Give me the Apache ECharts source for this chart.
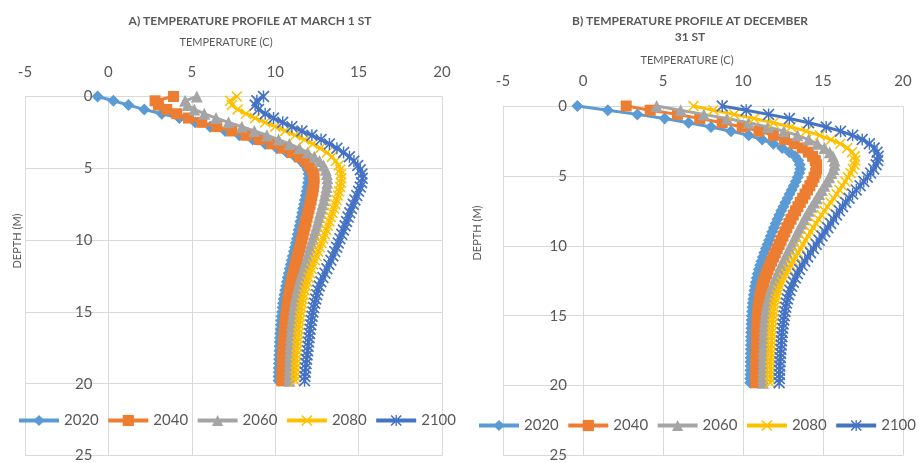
<!DOCTYPE html>
<html>
<head>
<meta charset="utf-8">
<script src="https://cdn.jsdelivr.net/npm/echarts@6/dist/echarts.min.js"></script>
<style>
  html, body { margin: 0; padding: 0; background: #ffffff; }
  #chart { width: 919px; height: 463px; }
</style>
</head>
<body>
<div id="chart"></div>
<script>
// Depth of each model node (m)
const depths = [
  0, 0.3, 0.6, 0.9, 1.2, 1.5, 1.8, 2.1, 2.4, 2.7, 3.0, 3.3, 3.6, 3.9, 4.2, 4.5, 4.8, 5.1, 5.4, 5.7, 6.0,
  6.3, 6.6, 6.9, 7.2, 7.5, 7.8, 8.1, 8.4, 8.7, 9.0, 9.3, 9.6, 9.9, 10.2, 10.5, 10.8, 11.1, 11.4, 11.7, 12.0,
  12.3, 12.6, 12.9, 13.2, 13.5, 13.8, 14.1, 14.4, 14.7, 15.0, 15.3, 15.6, 15.9, 16.2, 16.5, 16.8, 17.1, 17.4,
  17.7, 18.0, 18.3, 18.6, 18.9, 19.2, 19.5, 19.8
];

const years = ['2020', '2040', '2060', '2080', '2100'];

// Temperature (C) on March 1st
const march2020 = [
  -0.65, 0.3, 1.2, 2.15, 3.2, 4.25, 5.2, 6.1, 7.0, 7.85, 8.65, 9.4, 10.1, 10.7, 11.2, 11.55, 11.8, 11.95, 12.0, 12.0, 11.97,
  11.93, 11.88, 11.83, 11.78, 11.73, 11.67, 11.62, 11.57, 11.51, 11.46,
  11.4, 11.35, 11.3, 11.24, 11.18, 11.12, 11.05, 10.99, 10.93, 10.87,
  10.81, 10.75, 10.7, 10.65, 10.6, 10.55, 10.51, 10.47, 10.44, 10.41,
  10.38, 10.36, 10.34, 10.32, 10.3, 10.29, 10.27, 10.26, 10.25, 10.24,
  10.23, 10.22, 10.21, 10.21, 10.2, 10.2
];
const march2040 = [
  3.9, 2.8, 3.0, 3.5, 4.1, 4.8, 5.6, 6.5, 7.4, 8.25, 9.05, 9.8, 10.45, 11.0, 11.45, 11.8, 12.05, 12.2, 12.3, 12.33, 12.32,
  12.29, 12.25, 12.2, 12.15, 12.09, 12.03, 11.97, 11.91, 11.85, 11.79,
  11.73, 11.67, 11.61, 11.55, 11.49, 11.42, 11.35, 11.29, 11.22, 11.16,
  11.1, 11.04, 10.98, 10.93, 10.88, 10.83, 10.79, 10.75, 10.71, 10.68,
  10.65, 10.62, 10.59, 10.57, 10.55, 10.53, 10.51, 10.49, 10.48, 10.46,
  10.45, 10.44, 10.43, 10.42, 10.41, 10.4
];
const march2060 = [
  5.3, 4.6, 4.75, 5.15, 5.75, 6.45, 7.2, 8.0, 8.75, 9.5, 10.2, 10.85, 11.45, 11.95, 12.35, 12.66, 12.9, 13.03, 13.1, 13.13, 13.12,
  13.08, 13.03, 12.97, 12.91, 12.84, 12.77, 12.7, 12.63, 12.56, 12.49,
  12.41, 12.33, 12.25, 12.17, 12.09, 12.01, 11.93, 11.85, 11.77, 11.69,
  11.61, 11.53, 11.46, 11.39, 11.33, 11.27, 11.22, 11.17, 11.13, 11.09,
  11.06, 11.03, 11.0, 10.98, 10.96, 10.94, 10.93, 10.91, 10.9, 10.89,
  10.88, 10.87, 10.86, 10.86, 10.85, 10.85
];
const march2080 = [
  7.7, 7.3, 7.4, 7.75, 8.25, 8.8, 9.4, 10.0, 10.6, 11.2, 11.75, 12.25, 12.7, 13.1, 13.4, 13.63, 13.8, 13.9, 13.95, 13.96, 13.94,
  13.89, 13.83, 13.76, 13.68, 13.6, 13.52, 13.43, 13.34, 13.25, 13.16,
  13.07, 12.98, 12.88, 12.78, 12.68, 12.58, 12.48, 12.38, 12.28, 12.18,
  12.09, 12.0, 11.92, 11.85, 11.78, 11.72, 11.67, 11.62, 11.58, 11.54,
  11.5, 11.47, 11.44, 11.41, 11.39, 11.36, 11.34, 11.32, 11.3, 11.28,
  11.27, 11.25, 11.24, 11.23, 11.22, 11.21
];
const march2100 = [
  9.3, 8.9, 8.8, 9.0, 9.4, 9.9, 10.45, 11.0, 11.6, 12.2, 12.75, 13.25, 13.7, 14.1, 14.45, 14.72, 14.95, 15.1, 15.2, 15.22, 15.18,
  15.1, 15.0, 14.89, 14.78, 14.68, 14.57, 14.47, 14.37, 14.28, 14.19,
  14.09, 13.99, 13.88, 13.78, 13.68, 13.57, 13.46, 13.34, 13.22, 13.1,
  12.98, 12.86, 12.74, 12.64, 12.56, 12.49, 12.43, 12.37, 12.31, 12.26,
  12.21, 12.17, 12.13, 12.09, 12.06, 12.03, 12.0, 11.97, 11.94, 11.91,
  11.88, 11.85, 11.82, 11.8, 11.78, 11.76
];

// Temperature (C) on December 31st
const dec2020 = [
  -0.35, 1.55, 3.4, 5.1, 6.6, 8.0, 9.25, 10.35, 11.2, 11.9, 12.45, 12.9, 13.25, 13.45, 13.55, 13.58, 13.52, 13.42, 13.3, 13.17, 13.04,
  12.91, 12.78, 12.65, 12.52, 12.39, 12.27, 12.15, 12.04, 11.93, 11.83,
  11.73, 11.63, 11.53, 11.43, 11.33, 11.24, 11.15, 11.07, 10.99, 10.92,
  10.86, 10.8, 10.75, 10.71, 10.67, 10.64, 10.61, 10.59, 10.57, 10.55,
  10.54, 10.53, 10.52, 10.51, 10.5, 10.5, 10.49, 10.49, 10.48, 10.48,
  10.47, 10.47, 10.46, 10.46, 10.45, 10.45
];
const dec2040 = [
  2.7, 4.2, 5.9, 7.3, 8.7, 9.95, 11.0, 11.9, 12.6, 13.2, 13.7, 14.08, 14.35, 14.52, 14.6, 14.6, 14.54, 14.44, 14.32, 14.18, 14.03,
  13.88, 13.73, 13.58, 13.43, 13.28, 13.14, 13.0, 12.87, 12.74, 12.62,
  12.5, 12.38, 12.26, 12.14, 12.02, 11.91, 11.79, 11.68, 11.57, 11.47,
  11.38, 11.29, 11.21, 11.14, 11.08, 11.03, 10.99, 10.96, 10.93, 10.91,
  10.89, 10.88, 10.87, 10.86, 10.85, 10.85, 10.84, 10.84, 10.83, 10.83,
  10.82, 10.82, 10.81, 10.81, 10.8, 10.8
];
const dec2060 = [
  4.6, 6.1, 7.55, 9.0, 10.35, 11.55, 12.55, 13.4, 14.1, 14.65, 15.1, 15.42, 15.62, 15.72, 15.72, 15.65, 15.53, 15.39, 15.24, 15.08, 14.92,
  14.76, 14.6, 14.44, 14.28, 14.12, 13.97, 13.82, 13.68, 13.54, 13.41,
  13.28, 13.15, 13.02, 12.89, 12.76, 12.63, 12.5, 12.38, 12.26, 12.14,
  12.03, 11.92, 11.82, 11.73, 11.65, 11.58, 11.52, 11.47, 11.43, 11.4,
  11.38, 11.36, 11.34, 11.33, 11.32, 11.31, 11.3, 11.29, 11.28, 11.28,
  11.27, 11.27, 11.26, 11.26, 11.25, 11.25
];
const dec2080 = [
  6.9, 8.15, 9.45, 10.7, 11.9, 13.0, 13.95, 14.8, 15.5, 16.08, 16.52, 16.82, 16.98, 17.02, 16.97, 16.86, 16.72, 16.56, 16.39, 16.21, 16.03,
  15.85, 15.66, 15.47, 15.28, 15.09, 14.91, 14.73, 14.56, 14.39, 14.23,
  14.07, 13.91, 13.75, 13.59, 13.43, 13.28, 13.13, 12.98, 12.83, 12.69,
  12.56, 12.43, 12.31, 12.21, 12.12, 12.05, 11.99, 11.95, 11.92, 11.89,
  11.86, 11.84, 11.82, 11.8, 11.79, 11.78, 11.77, 11.76, 11.75, 11.74,
  11.73, 11.72, 11.72, 11.71, 11.71, 11.7
];
const dec2100 = [
  8.7, 10.2, 11.6, 12.9, 14.1, 15.2, 16.1, 16.85, 17.45, 17.9, 18.2, 18.38, 18.45, 18.42, 18.32, 18.17, 17.98, 17.77, 17.55, 17.32, 17.08,
  16.85, 16.63, 16.42, 16.22, 16.03, 15.84, 15.66, 15.48, 15.3, 15.12,
  14.94, 14.76, 14.58, 14.4, 14.22, 14.04, 13.86, 13.69, 13.53, 13.4,
  13.27, 13.15, 13.04, 12.94, 12.85, 12.78, 12.72, 12.67, 12.62, 12.58,
  12.54, 12.51, 12.48, 12.45, 12.43, 12.41, 12.39, 12.37, 12.35, 12.33,
  12.31, 12.3, 12.29, 12.28, 12.27, 12.26
];

const marchSeries = [march2020, march2040, march2060, march2080, march2100];
const decSeries = [dec2020, dec2040, dec2060, dec2080, dec2100];

// Axis ranges
const tempMin = -5, tempMax = 20, tempStep = 5;
const depthMin = 0, depthMax = 25, depthStep = 5;

// Office-style palette and marker shapes
const colors = ['#5B9BD5', '#ED7D31', '#A5A5A5', '#FFC000', '#4472C4'];
const crossPath = 'path://M1,0L5,4L9,0L10,1L6,5L10,9L9,10L5,6L1,10L0,9L4,5L0,1Z';
const starPath = 'path://M1,0L5,4L9,0L10,1L6,5L10,9L9,10L5,6L1,10L0,9L4,5L0,1ZM4.4,0L5.6,0L5.6,10L4.4,10Z';
const symbols = ['diamond', 'rect', 'triangle', crossPath, starPath];
const symbolSizes = [12, 11, 12, 11, 12];

const FONT = 'Lato, "Open Sans", sans-serif';
const TEXT_GREY = '#595959';
const GRID_GREY = '#D9D9D9';

// The depth axis crosses the temperature axis at 0 C, so its labels sit next to that gridline
const panels = [
  { left: 25, right: 477, top: 96.5, bottom: 0.5, zeroOffset: 83.4, legendLeft: 17, legendTop: 413 },
  { left: 503, right: 16, top: 106, bottom: 2, zeroOffset: 80, legendLeft: 477, legendTop: 418 }
];

function tempAxis(gridIndex) {
  return {
    type: 'value', gridIndex, position: 'top',
    min: tempMin, max: tempMax, interval: tempStep,
    axisLine: { show: false, onZero: false },
    axisTick: { show: false },
    axisLabel: { fontSize: 15, color: TEXT_GREY, fontFamily: FONT, margin: 17 },
    splitLine: { show: true, lineStyle: { color: GRID_GREY, width: 1 } }
  };
}
function depthAxis(gridIndex) {
  return {
    type: 'value', gridIndex, inverse: true, position: 'left',
    offset: -panels[gridIndex].zeroOffset,
    min: depthMin, max: depthMax, interval: depthStep,
    axisLine: { show: false, onZero: false },
    axisTick: { show: false },
    axisLabel: { fontSize: 15, color: TEXT_GREY, fontFamily: FONT, margin: 16 },
    splitLine: { show: true, lineStyle: { color: GRID_GREY, width: 1 } }
  };
}

function buildSeries(list, axisIndex) {
  return list.map((temps, k) => ({
    type: 'line',
    name: years[k],
    xAxisIndex: axisIndex,
    yAxisIndex: axisIndex,
    data: temps.map((t, i) => [t, depths[i]]),
    symbol: symbols[k],
    symbolSize: symbolSizes[k],
    showSymbol: true,
    lineStyle: { color: colors[k], width: 3 },
    itemStyle: { color: colors[k] },
    z: 2 + k,
    animation: false
  }));
}

function legendAt(p) {
  return {
    left: p.legendLeft, top: p.legendTop, width: 460, padding: 0, orient: 'horizontal',
    itemWidth: 40, itemHeight: 14, itemGap: 7.5,
    selectedMode: false,
    data: years,
    lineStyle: { width: 4 },
    textStyle: { fontSize: 15, color: TEXT_GREY, fontFamily: FONT }
  };
}

function label(text, x, y, extraStyle, rotation) {
  return {
    type: 'text', x, y, silent: true, rotation: rotation || 0,
    style: Object.assign({
      text, fill: TEXT_GREY, fontFamily: FONT, fontSize: 11,
      align: 'center', verticalAlign: 'middle'
    }, extraStyle || {})
  };
}

const titleStyle = { fontSize: 12, fontWeight: 'bold', lineHeight: 16 };

const chart = echarts.init(document.getElementById('chart'), null, { renderer: 'canvas' });
chart.setOption({
  backgroundColor: '#ffffff',
  animation: false,
  grid: panels.map(p => ({ left: p.left, right: p.right, top: p.top, bottom: p.bottom, containLabel: false })),
  xAxis: [tempAxis(0), tempAxis(1)],
  yAxis: [depthAxis(0), depthAxis(1)],
  legend: panels.map(legendAt),
  series: buildSeries(marchSeries, 0).concat(buildSeries(decSeries, 1)),
  graphic: [
    label('A) TEMPERATURE PROFILE AT MARCH 1 ST', 250, 21, titleStyle),
    label('TEMPERATURE (C)', 226, 42),
    label('DEPTH (M)', 17, 241, null, Math.PI / 2),
    label('B) TEMPERATURE PROFILE AT DECEMBER\n31 ST', 690, 29, titleStyle),
    label('TEMPERATURE (C)', 687, 60),
    label('DEPTH (M)', 477, 233, null, Math.PI / 2)
  ]
});
</script>
</body>
</html>
